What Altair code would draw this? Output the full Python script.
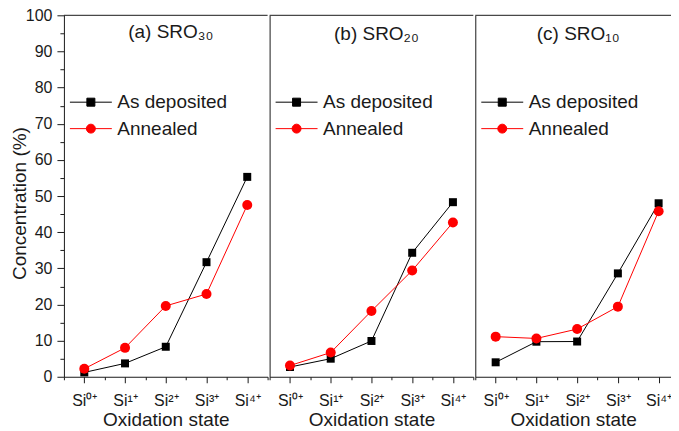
import altair as alt
import pandas as pd

# ---- data ----
states = ["Si⁰⁺", "Si¹⁺", "Si²⁺", "Si³⁺", "Si⁴⁺"]
panels = ["(a) SRO₃₀", "(b) SRO₂₀", "(c) SRO₁₀"]
series = ["As deposited", "Annealed"]
colors = ["#000000", "#ff0000"]

a_dep = [1.2, 3.7, 8.3, 31.7, 55.3]
a_ann = [2.2, 8.0, 19.6, 22.9, 47.5]
b_dep = [2.7, 5.0, 9.9, 34.3, 48.3]
b_ann = [3.1, 6.7, 18.2, 29.4, 42.7]
c_dep = [4.0, 9.7, 9.75, 28.6, 48.0]
c_ann = [11.1, 10.6, 13.2, 19.4, 45.8]

y_major = list(range(0, 101, 10))
y_minor = list(range(5, 100, 10))
x_major = [0, 1, 2, 3, 4]
x_minor = [-0.5, 0.5, 1.5, 2.5, 3.5, 4.5]

FONT = "Liberation Sans, Arial, Helvetica, sans-serif"
INK = "#1a1a1a"

label_expr = "[" + ",".join("'" + s + "'" for s in states) + "][datum.value]"

sq_path = "M-2.625,0H2.625M-0.5,-0.5H0.5V0.5H-0.5Z"
ci_path = "M-2.625,0H2.625M0.56,0A0.56,0.56,0,1,1,-0.56,0A0.56,0.56,0,1,1,0.56,0Z"

STEP = 40.8  # pixels per category


def make_panel(i, dep, ann, width):
    rows = []
    for s, vals in zip(series, [dep, ann]):
        for k, v in enumerate(vals):
            rows.append({"idx": k, "state": states[k], "series": s, "value": v})
    df = pd.DataFrame(rows)

    xs = alt.Scale(domain=[-0.5, -0.5 + width / STEP], nice=False, zero=False)
    ys = alt.Scale(domain=[0, 100], nice=False, zero=False)

    ax_x = alt.Axis(orient="bottom", values=x_major, labelExpr=label_expr,
                    tickSize=6, grid=False, title="Oxidation state",
                    labelPadding=10, titlePadding=2, labelAngle=0)
    ax_x_minor = alt.Axis(orient="bottom", values=x_minor, tickSize=3,
                          labels=False, domain=False, grid=False, title=None)
    if i == 0:
        ax_y = alt.Axis(orient="left", values=y_major, tickSize=7, grid=False,
                        labelPadding=5, title="Concentration (%)",
                        titlePadding=-4, titleY=188)
        ax_y_minor = alt.Axis(orient="left", values=y_minor, tickSize=4,
                              labels=False, domain=False, grid=False, title=None)
    else:
        ax_y = alt.Axis(orient="left", labels=False, ticks=False, grid=False,
                        title=None)
        ax_y_minor = None

    base = alt.Chart(df)

    frame_top = alt.Chart(pd.DataFrame({"one": [1]})).mark_rule(
        color=INK, strokeWidth=1
    ).encode(y=alt.YDatum(100, scale=ys, axis=None))

    if ax_y_minor is not None:
        ymin_enc = alt.Y("value:Q", scale=ys, axis=ax_y_minor)
    else:
        ymin_enc = alt.Y("value:Q", scale=ys, axis=None)
    minor = base.mark_point(opacity=0).encode(
        x=alt.X("idx:Q", scale=xs, axis=ax_x_minor), y=ymin_enc
    )

    dep_line = base.transform_filter(alt.datum.series == series[0]).mark_line(
        color=colors[0], strokeWidth=1
    ).encode(x=alt.X("idx:Q", scale=xs, axis=ax_x),
             y=alt.Y("value:Q", scale=ys, axis=ax_y))
    ann_line = base.transform_filter(alt.datum.series == series[1]).mark_line(
        color=colors[1], strokeWidth=1
    ).encode(x=alt.X("idx:Q", scale=xs, axis=None),
             y=alt.Y("value:Q", scale=ys, axis=None))
    dep_pts = base.transform_filter(alt.datum.series == series[0]).mark_point(
        shape="square", filled=True, size=64, color=colors[0], opacity=1
    ).encode(x=alt.X("idx:Q", scale=xs, axis=None),
             y=alt.Y("value:Q", scale=ys, axis=None))
    ann_pts = base.transform_filter(alt.datum.series == series[1]).mark_point(
        shape="circle", filled=True, size=100, color=colors[1], opacity=1
    ).encode(x=alt.X("idx:Q", scale=xs, axis=None),
             y=alt.Y("value:Q", scale=ys, axis=None))

    leg = alt.Legend(orient="none", legendX=17.5, legendY=77.5, title=None,
                     labelFontSize=19, labelFont=FONT, labelColor=INK,
                     labelOffset=17, rowPadding=6.5, symbolStrokeWidth=1,
                     symbolSize=256, symbolOpacity=1, padding=0)
    legend_layer = base.transform_filter("false").mark_point(
        filled=True, size=256, strokeWidth=1, opacity=1
    ).encode(
        shape=alt.Shape("series:N", scale=alt.Scale(domain=series, range=[sq_path, ci_path]), legend=leg),
        fill=alt.Fill("series:N", scale=alt.Scale(domain=series, range=colors), legend=leg),
        stroke=alt.Stroke("series:N", scale=alt.Scale(domain=series, range=colors), legend=leg),
    )

    offset = -50 if i == 0 else -44
    layer = alt.layer(frame_top, minor, dep_line, ann_line, dep_pts, ann_pts, legend_layer).resolve_axis(
        x="independent", y="independent"
    ).properties(
        width=width, height=362,
        title=alt.TitleParams(text=panels[i], fontSize=19, font=FONT,
                              fontWeight="normal", color=INK, anchor="middle",
                              frame="group", offset=offset, baseline="alphabetic", dx=5),
    )
    return layer


pa = make_panel(0, a_dep, a_ann, 204)
pb = make_panel(1, b_dep, b_ann, 204)
pc = make_panel(2, c_dep, c_ann, 196)

chart = alt.hconcat(pa, pb, pc, spacing=0).resolve_scale(
    x="independent"
).resolve_legend(
    shape="independent", fill="independent", stroke="independent"
).properties(
    padding={"left": 2, "top": -1, "right": -1, "bottom": 0}
).configure_view(
    stroke=None
).configure_axis(
    labelFont=FONT, titleFont=FONT, labelFontSize=16, titleFontSize=19,
    labelColor=INK, titleColor=INK, domainColor=INK, tickColor=INK,
    titleFontWeight="normal", domainWidth=1, tickWidth=1
)

chart.save("out.html", embed_options={"renderer": "svg", "actions": False})
